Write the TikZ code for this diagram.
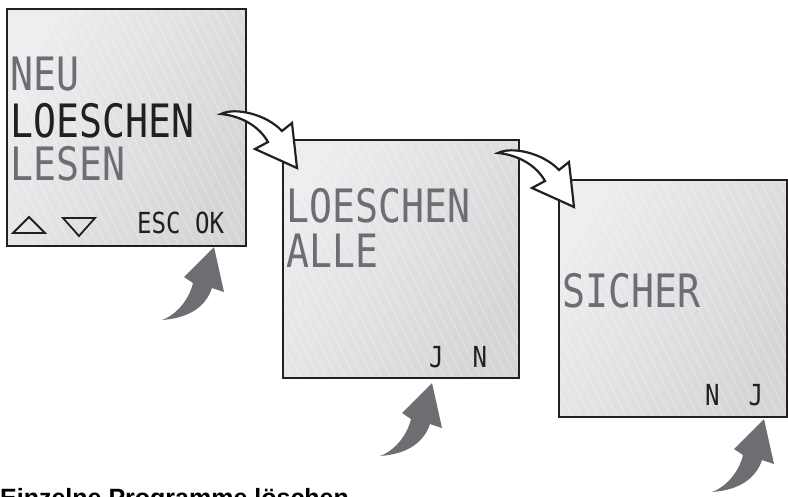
\documentclass[tikz,border=0pt]{standalone}
\usepackage{fontspec}
\newfontfamily\lcdfont{DejaVu Sans Mono}[FakeStretch=0.83]
\newfontfamily\headfont{Liberation Sans}
\usetikzlibrary{positioning}
\definecolor{lcdgrey}{HTML}{6D6E71}
\definecolor{lcdblack}{HTML}{231F20}
\definecolor{panellight}{HTML}{EDEDEF}
\definecolor{paneldark}{HTML}{D4D5D7}

\begin{document}
\begin{tikzpicture}[x=1pt, y=-1pt,
  screen/.style={rectangle, draw=lcdblack, line width=1.8pt, anchor=north west, inner sep=0pt,
    left color=panellight, right color=paneldark, shading angle=60,
    path picture={\foreach \s in {-300,-291,...,300}
      \draw[white, opacity=.55, line width=.4pt] ([xshift=\s pt]path picture bounding box.north) -- ++(130pt,-260pt);}},
  bigtext/.style={anchor=base west, inner sep=0pt, font=\lcdfont\fontsize{46}{46}\selectfont},
  smalltext/.style={anchor=base west, inner sep=0pt, font=\lcdfont\fontsize{29}{29}\selectfont},
  ghost/.style={white!75!lcdgrey, line width=.4pt, dash pattern=on 1.5pt off 1.5pt},
  pics/turnarrow/.style={code={
    \draw[fill=white, draw=lcdblack, line width=2.2pt, line join=miter]
      (0,0) .. controls (14,-7) and (45,0) .. (61,17) -- (71,9) -- (76,54) -- (34,35) -- (47,28)
      .. controls (38,12) and (20,2) .. cycle;}},
  pics/pressarrow/.style={code={
    \fill[lcdgrey] (0,0) .. controls (14,-5) and (27,-20) .. (31,-37) -- (22,-43) -- (52,-73)
      -- (62,-28) -- (50,-32) .. controls (44,-14) and (28,-2) .. cycle;}}]
  \useasboundingbox (0,0) rectangle (788,496);

  % screens
  \node[screen, minimum width=239pt, minimum height=237pt] (screen1) at (6,8) {};
  \node[screen, minimum width=236pt, minimum height=238pt] (screen2) at (282,139) {};
  \node[screen, minimum width=228pt, minimum height=237pt] (screen3) at (558,179) {};

  % screen 1: menu
  \node[bigtext, lcdgrey] (neu) at (10,90) {NEU};
  \node[bigtext, lcdblack] (loeschen) at (10,137) {LOESCHEN};
  \node[bigtext, lcdgrey] (lesen) at (10,180) {LESEN};
  \draw[lcdblack, line width=1.8pt] (13,233) -- (45,233) -- (29,217) -- cycle;
  \draw[lcdblack, line width=1.8pt] (63,218) -- (95,218) -- (79,236) -- cycle;
  \node[smalltext, lcdblack] (escok) at (137,233) {ESC OK};

  % screen 2: delete all
  \node[bigtext, lcdgrey] (loeschen2) at (286,222) {LOESCHEN};
  \node[bigtext, lcdgrey] (alle) at (286,267) {ALLE};
  \foreach \d in {0,6,12} \draw[ghost] (291+\d,283) -- ++(7,21);
  \node[smalltext, lcdblack] (jn) at (429,367) {J~~N};

  % screen 3: confirm
  \node[bigtext, lcdgrey] (sicher) at (562,307) {SICHER};
  \foreach \d in {0,6,12} \draw[ghost] (566+\d,322) -- ++(7,21);
  \node[smalltext, lcdblack] (nj) at (705,405) {N~~J};

  % arrows
  \pic at (221,114) {turnarrow};
  \pic at (498,153) {turnarrow};
  \pic at (162,320) {pressarrow};
  \pic at (380,456) {pressarrow};
  \pic at (712,492) {pressarrow};

  \node[anchor=base west, inner sep=0pt, font=\headfont\bfseries\fontsize{25}{25}\selectfont] (title) at (0,506) {Einzelne Programme löschen};
\end{tikzpicture}
\end{document}
